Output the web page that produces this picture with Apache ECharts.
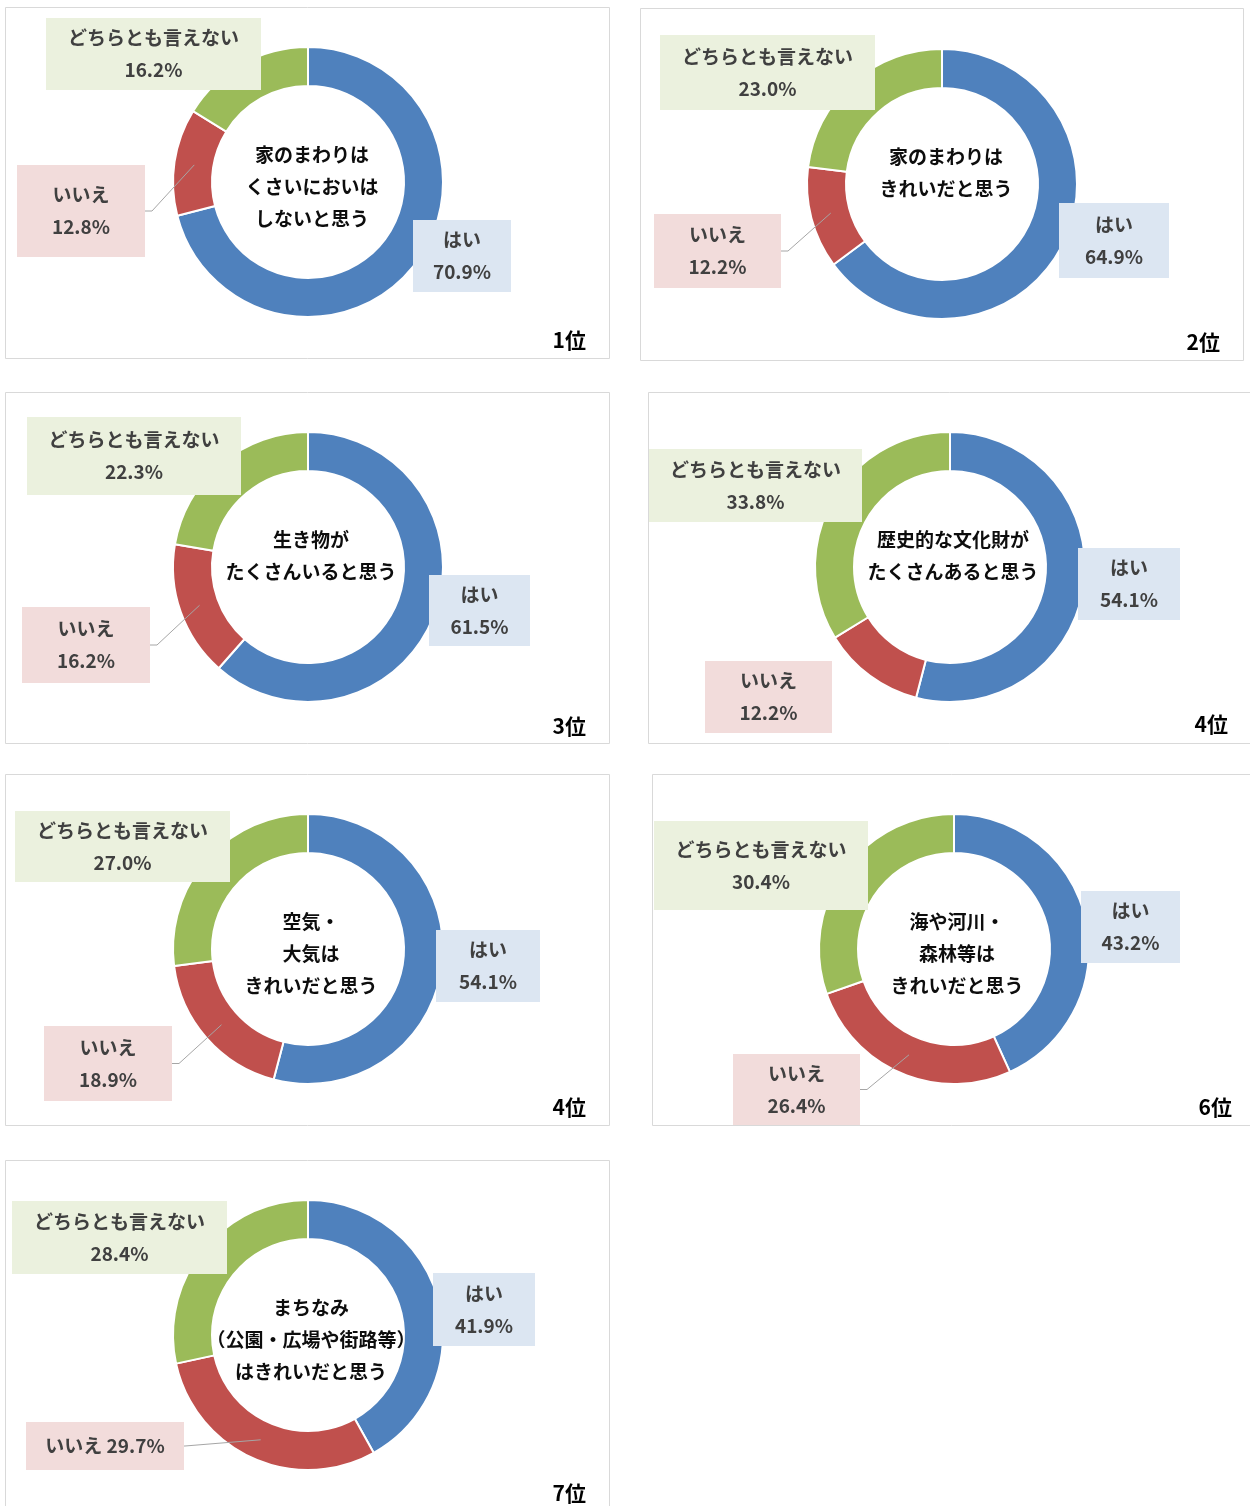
<!DOCTYPE html>
<html><head><meta charset="utf-8">
<script src="https://cdn.jsdelivr.net/npm/echarts@6/dist/echarts.min.js"></script>
<style>html,body{margin:0;padding:0;background:#fff}#c{width:1250px;height:1506px}</style>
</head><body><div id="c"></div><script>
// ---- data ----
const categories = ['はい', 'いいえ', 'どちらとも言えない'];
const topics = [
  '家のまわりは\nくさいにおいは\nしないと思う',
  '家のまわりは\nきれいだと思う',
  '生き物が\nたくさんいると思う',
  '歴史的な文化財が\nたくさんあると思う',
  '空気・\n大気は\nきれいだと思う',
  '海や河川・\n森林等は\nきれいだと思う',
  'まちなみ\n（公園・広場や街路等）\nはきれいだと思う'
];
const ranks = ['1位', '2位', '3位', '4位', '4位', '6位', '7位'];
const yesValues = [70.9, 64.9, 61.5, 54.1, 54.1, 43.2, 41.9];
const noValues = [12.8, 12.2, 16.2, 12.2, 18.9, 26.4, 29.7];
const neitherValues = [16.2, 23.0, 22.3, 33.8, 27.0, 30.4, 28.4];

// ---- layout (positions / sizes only) ----
const colors = ['#4F81BD', '#C0504D', '#9BBB59'];
const boxBg = ['#DCE6F2', '#F2DCDB', '#EBF1DE'];
const panels = [
  { frame: [5, 7, 604, 351], c: [308, 182], text: [312, 187], rank: [586, 340],
    boxes: [[462, 256, 98, 72], [81, 211, 128, 92], [153.5, 54, 215, 72]], leader: [false, true, false] },
  { frame: [640, 8, 603, 352], c: [942, 184], text: [946, 173], rank: [1220, 342],
    boxes: [[1114, 240.5, 110, 75], [717.5, 251, 127, 74], [767.5, 72.5, 215, 75]], leader: [false, true, false] },
  { frame: [5, 392, 604, 351], c: [308, 567], text: [311, 556], rank: [586, 726],
    boxes: [[479.5, 610.5, 101, 71], [86, 645, 128, 76], [134, 456, 214, 78]], leader: [false, true, false] },
  { frame: [648, 392, 620, 351], c: [950, 567], text: [953, 556], rank: [1228, 724],
    boxes: [[1129, 584, 102, 72], [768.5, 697, 127, 72], [755.5, 485.5, 213, 73]], leader: [false, false, false] },
  { frame: [5, 774, 604, 351], c: [308, 949], text: [311, 954], rank: [586, 1107],
    boxes: [[488, 966, 104, 72], [108, 1063.5, 128, 75], [122.5, 846.5, 215, 71]], leader: [false, true, false] },
  { frame: [652, 774, 620, 351], c: [954, 949], text: [957, 954], rank: [1232, 1107],
    boxes: [[1130.5, 927, 99, 72], [796.5, 1089.5, 127, 71], [761, 865.5, 214, 89]], leader: [false, true, false] },
  { frame: [5, 1160, 604, 380], c: [308, 1335], text: [311, 1340], rank: [586, 1493],
    boxes: [[484, 1309.5, 102, 73], [105, 1446, 158, 48], [119.5, 1237.5, 215, 73]], leader: [false, true, false], oneLine: [false, true, false] }
];
const RIN = 96, ROUT = 135, LH = 32;
const FONT = '"Noto Sans CJK JP", "Noto Sans", sans-serif';

// leader line from label box to the middle of the slice (angle derived from data)
function leaderPoints(p, vals, k) {
  const total = vals.reduce((a, b) => a + b, 0);
  let before = 0;
  for (let j = 0; j < k; j++) before += vals[j];
  const mid = (before + vals[k] / 2) / total * Math.PI * 2;
  const r = (RIN + ROUT) / 2 - 0.5;
  const ax = p.c[0] + r * Math.sin(mid), ay = p.c[1] - r * Math.cos(mid);
  const b = p.boxes[k];
  const ex = b[0] + b[2] / 2, ey = b[1];
  const single = p.oneLine && p.oneLine[k];
  const elbow = single ? [ex + 1, ey] : [ex + 7, ey];
  return [[ex, ey], elbow, [ax, ay]];
}

const series = panels.map((p, i) => {
  const vals = [yesValues[i], noValues[i], neitherValues[i]];
  return {
    type: 'pie', center: p.c, radius: [RIN, ROUT], startAngle: 90, clockwise: true,
    avoidLabelOverlap: false, silent: true, animation: false,
    itemStyle: { borderColor: '#fff', borderWidth: 2 },
    emphasis: { disabled: true },
    label: {
      show: true, position: 'outside', color: '#404040', fontSize: 19, fontWeight: 'bold',
      fontFamily: FONT, lineHeight: LH,
      formatter: (prm) => {
        const single = p.oneLine && p.oneLine[prm.dataIndex];
        return prm.name + (single ? ' ' : '\n') + prm.value.toFixed(1) + '%';
      }
    },
    labelLine: { show: false },
    labelLayout: (prm) => {
      const b = p.boxes[prm.dataIndex];
      return { x: b[0], y: b[1], align: 'center', verticalAlign: 'middle' };
    },
    data: categories.map((name, k) => {
      const b = p.boxes[k];
      const lines = (p.oneLine && p.oneLine[k]) ? 1 : 2;
      const pv = (b[3] - lines * LH) / 2;
      return {
        name, value: vals[k],
        itemStyle: { color: colors[k] },
        label: { backgroundColor: boxBg[k], width: b[2], padding: [pv, 0, pv, 0] }
      };
    })
  };
});

const graphic = [];
panels.forEach((p, i) => {
  const f = p.frame;
  const vals = [yesValues[i], noValues[i], neitherValues[i]];
  graphic.push({ type: 'rect', silent: true, z: -10,
    shape: { x: f[0] + 0.5, y: f[1] + 0.5, width: f[2], height: f[3] },
    style: { fill: '#fff', stroke: '#D9D9D9', lineWidth: 1 } });
  p.leader.forEach((on, k) => {
    if (!on) return;
    graphic.push({ type: 'polyline', silent: true, z: 50,
      shape: { points: leaderPoints(p, vals, k) },
      style: { stroke: '#A6A6A6', lineWidth: 1, fill: null } });
  });
  graphic.push({ type: 'text', silent: true, z: 100, x: p.text[0], y: p.text[1],
    style: { text: topics[i], fill: '#0D0D0D', font: 'bold 19px ' + FONT, lineHeight: LH,
      align: 'center', verticalAlign: 'middle' } });
  graphic.push({ type: 'text', silent: true, z: 100, x: p.rank[0], y: p.rank[1],
    style: { text: ranks[i], fill: '#000', font: 'bold 21px ' + FONT,
      align: 'right', verticalAlign: 'middle' } });
});

const chart = echarts.init(document.getElementById('c'), null, { renderer: 'canvas' });
chart.setOption({ animation: false, backgroundColor: '#fff', graphic, series });
</script></body></html>
